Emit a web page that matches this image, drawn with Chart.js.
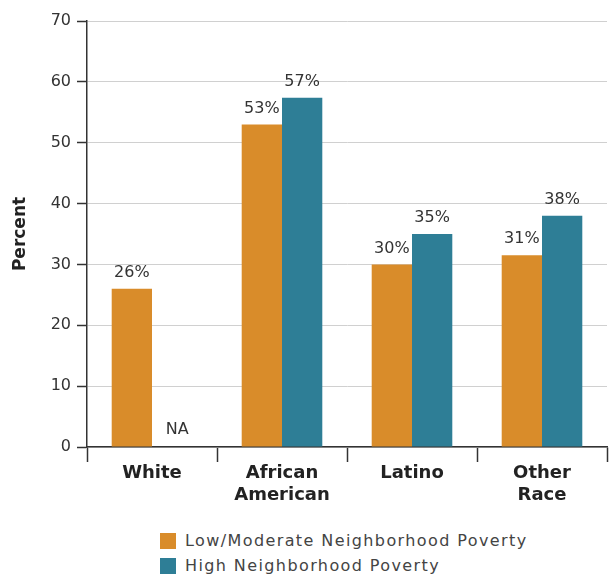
<!DOCTYPE html>
<html>
<head>
<meta charset="utf-8">
<script src="https://cdn.jsdelivr.net/npm/chart.js@4.4.1/dist/chart.umd.min.js"></script>
<style>
  body { margin: 0; background: #fff; font-family: "DejaVu Sans", sans-serif; }
  #wrap { position: relative; width: 615px; height: 578px; }
  #legend { position: absolute; left: 160px; top: 528px; font-size: 16px; letter-spacing: 1.4px; color: #444; }
  .item { display: flex; align-items: center; height: 25px; }
  .box { width: 16px; height: 16px; margin-right: 9px; }
</style>
</head>
<body>
<div id="wrap">
  <canvas id="chart" width="615" height="515"></canvas>
  <div id="legend"></div>
</div>
<script>
const categories = ['White', ['African', 'American'], 'Latino', ['Other', 'Race']];
const lowValues = [26, 53, 30, 31.5];
const highValues = [null, 57.4, 35, 38];
const lowLabels = ['26%', '53%', '30%', '31%'];
const highLabels = ['NA', '57%', '35%', '38%'];
const yTicks = [0, 10, 20, 30, 40, 50, 60, 70];

const orange = 'rgb(217, 140, 42)';
const teal = 'rgb(46, 126, 150)';

// valeurs au-dessus des barres
const valueLabels = {
  id: 'valueLabels',
  afterDatasetsDraw(chart) {
    const ctx = chart.ctx;
    ctx.save();
    ctx.font = '16px "DejaVu Sans"';
    ctx.fillStyle = '#333';
    ctx.textAlign = 'center';
    ctx.textBaseline = 'bottom';
    chart.data.datasets.forEach((ds, i) => {
      const meta = chart.getDatasetMeta(i);
      meta.data.forEach((bar, j) => {
        const txt = ds.valueText[j];
        if (ds.data[j] === null) {
          const y = chart.scales.y.getPixelForValue(0);
          ctx.fillText(txt, bar.x + 5, y - 9);
        } else {
          ctx.fillText(txt, bar.x, bar.y - 8);
        }
      });
    });
    ctx.restore();
  }
};

const chart = new Chart(document.getElementById('chart'), {
  type: 'bar',
  data: {
    labels: categories,
    datasets: [{
      label: 'Low/Moderate Neighborhood Poverty',
      data: lowValues,
      valueText: lowLabels,
      backgroundColor: orange
    }, {
      label: 'High Neighborhood Poverty',
      data: highValues,
      valueText: highLabels,
      backgroundColor: teal
    }]
  },
  options: {
    responsive: false,
    animation: false,
    layout: { padding: { top: 21, right: 8, left: 0, bottom: 0 } },
    plugins: {
      legend: { display: false },
      tooltip: { enabled: false }
    },
    datasets: {
      bar: { barPercentage: 1, categoryPercentage: 0.62 }
    },
    scales: {
      x: {
        grid: {
          offset: true,
          drawOnChartArea: false,
          drawTicks: true,
          tickLength: 15,
          tickColor: '#333',
          tickWidth: 1.5
        },
        border: { color: '#333', width: 1.5 },
        ticks: {
          color: '#222',
          font: { family: '"DejaVu Sans"', size: 18, weight: 'bold', lineHeight: 1.25 },
          padding: 0,
          maxRotation: 0
        },
        afterFit(scale) { scale.height = 68; }
      },
      y: {
        min: 0,
        max: 70,
        afterBuildTicks(scale) { scale.ticks = yTicks.map(v => ({ value: v })); },
        grid: {
          color: '#d0d0d0',
          tickColor: '#333',
          tickLength: 10,
          tickWidth: 1.5
        },
        border: { color: '#333', width: 1.5 },
        ticks: {
          color: '#333',
          font: { family: '"DejaVu Sans"', size: 16 },
          padding: 6
        },
        title: {
          display: true,
          text: 'Percent',
          color: '#222',
          font: { family: '"DejaVu Sans"', size: 17, weight: 'bold' },
          padding: { top: 10, bottom: 4 }
        },
        afterFit(scale) { scale.width = 87; }
      }
    }
  },
  plugins: [valueLabels]
});

// légende en HTML
const legend = document.getElementById('legend');
chart.data.datasets.forEach(ds => {
  const item = document.createElement('div');
  item.className = 'item';
  item.innerHTML = '<span class="box" style="background:' + ds.backgroundColor + '"></span>' + ds.label;
  legend.appendChild(item);
});
</script>
</body>
</html>
